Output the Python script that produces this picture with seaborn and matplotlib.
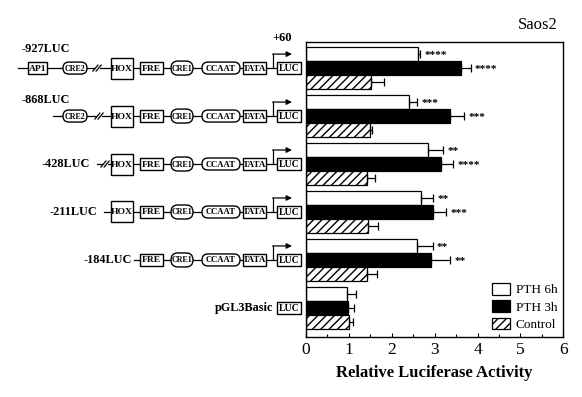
import numpy as np
import pandas as pd
import seaborn as sns
import matplotlib
matplotlib.use("Agg")
import matplotlib.pyplot as plt
from matplotlib.patches import Rectangle, FancyBboxPatch
from matplotlib.ticker import MultipleLocator

# ---------------- data ----------------
constructs = ["-927LUC", "-868LUC", "-428LUC", "-211LUC", "-184LUC", "pGL3Basic"]
treatments = ["PTH 6h", "PTH 3h", "Control"]
pth6h = [2.61, 2.40, 2.84, 2.68, 2.60, 0.95]
pth3h = [3.61, 3.35, 3.15, 2.95, 2.91, 0.99]
control = [1.52, 1.50, 1.42, 1.45, 1.43, 1.01]
err6h = [0.06, 0.19, 0.35, 0.29, 0.35, 0.21]
err3h = [0.23, 0.33, 0.28, 0.31, 0.45, 0.14]
errctl = [0.31, 0.03, 0.18, 0.23, 0.22, 0.08]
stars6h = ["****", "***", "**", "**", "**", ""]
stars3h = ["****", "***", "****", "***", "**", ""]
xticks = [0, 1, 2, 3, 4, 5, 6]

# promoter elements per construct
elements = [
    ["AP1", "CRE2", "//", "HOX", "FRE", "CRE1", "CCAAT", "TATA", "LUC"],
    ["CRE2", "//", "HOX", "FRE", "CRE1", "CCAAT", "TATA", "LUC"],
    ["//", "HOX", "FRE", "CRE1", "CCAAT", "TATA", "LUC"],
    ["HOX", "FRE", "CRE1", "CCAAT", "TATA", "LUC"],
    ["FRE", "CRE1", "CCAAT", "TATA", "LUC"],
    ["LUC"],
]

df = pd.DataFrame({
    "construct": np.repeat(constructs, 3),
    "treatment": treatments * len(constructs),
    "value": np.ravel(np.column_stack([pth6h, pth3h, control])),
})
errs = [err6h, err3h, errctl]
stars = [stars6h, stars3h, [""] * 6]

serif = ["Liberation Serif", "DejaVu Serif"]
plt.rcParams["font.family"] = serif
plt.rcParams["hatch.linewidth"] = 1.0

W, H = 582, 397
fig = plt.figure(figsize=(W / 100, H / 100), dpi=100)
ax = fig.add_axes([306 / W, 1 - 336.7 / H, 257.3 / W, 295 / H])

sns.barplot(data=df, y="construct", x="value", hue="treatment", order=constructs,
            hue_order=treatments, palette=["white", "black", "white"], orient="h",
            width=0.87, edgecolor="black", linewidth=0.9, errorbar=None,
            saturation=1, ax=ax)

bar_containers = list(ax.containers)
for k, cont in enumerate(bar_containers):
    for i, bar in enumerate(cont.patches):
        if k == 2:
            bar.set_hatch("////")
        yc = bar.get_y() + bar.get_height() / 2
        xv = bar.get_width()
        ax.errorbar(xv, yc, xerr=[[0], [errs[k][i]]], fmt="none", ecolor="black",
                    elinewidth=0.9, capsize=3, capthick=0.9)
        if stars[k][i]:
            ax.text(xv + errs[k][i] + 0.1, yc + 0.03, stars[k][i], va="center", ha="left",
                    fontsize=8, fontweight="bold")

ax.set_xlim(0, 6)
ax.set_ylim(5.6, -0.55)
ax.set_xticks(xticks)
ax.set_xticklabels([str(t) for t in xticks], fontsize=12.5)
ax.xaxis.set_minor_locator(MultipleLocator(0.5))
ax.tick_params(axis="x", direction="in", length=3, width=0.8, pad=4)
ax.tick_params(axis="x", which="minor", direction="in", length=2, width=0.8)
ax.set_yticks([])
ax.set_ylabel("")
ax.set_xlabel("Relative Luciferase Activity", fontsize=12, fontweight="bold", labelpad=5)
for s in ax.spines.values():
    s.set_linewidth(1.0)

handles = [cont.patches[0] for cont in bar_containers]
if ax.get_legend():
    ax.get_legend().remove()
ax.legend(handles, treatments, loc="lower right", frameon=False, fontsize=9.5,
          handlelength=1.35, handleheight=0.95, handletextpad=0.45, labelspacing=0.3,
          borderaxespad=0.05)

ax.text(0.9, 1.057, "Saos2", transform=ax.transAxes, ha="center", va="center", fontsize=12)

# ---------------- promoter diagrams (pixel overlay) ----------------
fig.canvas.draw()
ov = fig.add_axes([0, 0, 1, 1], zorder=-1)
ov.set_xlim(0, W)
ov.set_ylim(H, 0)
ov.axis("off")

rows = [H - ax.transData.transform((0, i))[1] for i in range(len(constructs))]

xpos = {"AP1": (28, 47), "CRE2": (63, 87), "HOX": (111, 133), "FRE": (140, 163),
        "CRE1": (171, 193), "CCAAT": (202, 240), "TATA": (243, 266), "LUC": (277, 301)}
shape = {"AP1": "box", "CRE2": "oval", "HOX": "tall", "FRE": "box", "CRE1": "oval",
         "CCAAT": "oval", "TATA": "box", "LUC": "box"}
brk = {0: 97, 1: 99, 2: 105}
line_start = {0: 18, 1: 53, 2: 97, 3: 104, 4: 134}
label_pos = {0: (21, "left"), 1: (22, "left"), 2: (90, "right"), 3: (97, "right"),
             4: (132, "right"), 5: (273, "right")}
label_dy = {0: -19, 1: -16, 2: 0, 3: 0, 4: 0, 5: 0}
text_fs = {"AP1": 6.8, "CRE2": 5.8, "HOX": 6.8, "FRE": 6.8, "CRE1": 5.8,
           "CCAAT": 6.2, "TATA": 6.5, "LUC": 7.0}

for r, (name, els) in enumerate(zip(constructs, elements)):
    y = rows[r]
    lx, lha = label_pos[r]
    ov.text(lx, y + label_dy[r], name, ha=lha, va="center", fontsize=8.8,
            fontweight="bold")
    if r < 5:
        ov.plot([line_start[r], 277], [y, y], color="black", lw=0.9, zorder=1)
        ov.plot([273, 273], [y, y - 14], color="black", lw=0.9, zorder=1)
        ov.annotate("", xy=(292, y - 14), xytext=(272.6, y - 14),
                    arrowprops=dict(arrowstyle="-|>", color="black", lw=0.9,
                                    mutation_scale=8, shrinkA=0, shrinkB=0))
    for e in els:
        if e == "//":
            xb = brk[r]
            ov.add_patch(Rectangle((xb - 2.5, y - 1.5), 5, 3, facecolor="white",
                                   edgecolor="none", zorder=2))
            for dx in (-1.6, 1.6):
                ov.plot([xb + dx - 2.5, xb + dx + 2.5], [y + 3, y - 3], color="black",
                        lw=0.9, zorder=3)
            continue
        x0, x1 = xpos[e]
        sh = shape[e]
        if sh in ("box", "tall"):
            h = 21 if sh == "tall" else 12
            ov.add_patch(Rectangle((x0, y - h / 2), x1 - x0, h, facecolor="white",
                                   edgecolor="black", lw=1.0, zorder=2))
        else:
            h = 14 if e == "CRE1" else 12
            rad = h / 2
            ov.add_patch(FancyBboxPatch((x0, y - h / 2), x1 - x0, h,
                                        boxstyle=f"round,pad=0,rounding_size={rad}",
                                        facecolor="white", edgecolor="black", lw=1.0,
                                        zorder=2))
        ov.text((x0 + x1) / 2, y + 0.5, e, ha="center", va="center", fontsize=text_fs[e],
                fontweight="bold", zorder=4)

ov.text(282, rows[0] - 30, "+60", ha="center", va="center", fontsize=9, fontweight="bold")

fig.savefig("out.png", dpi=100)
